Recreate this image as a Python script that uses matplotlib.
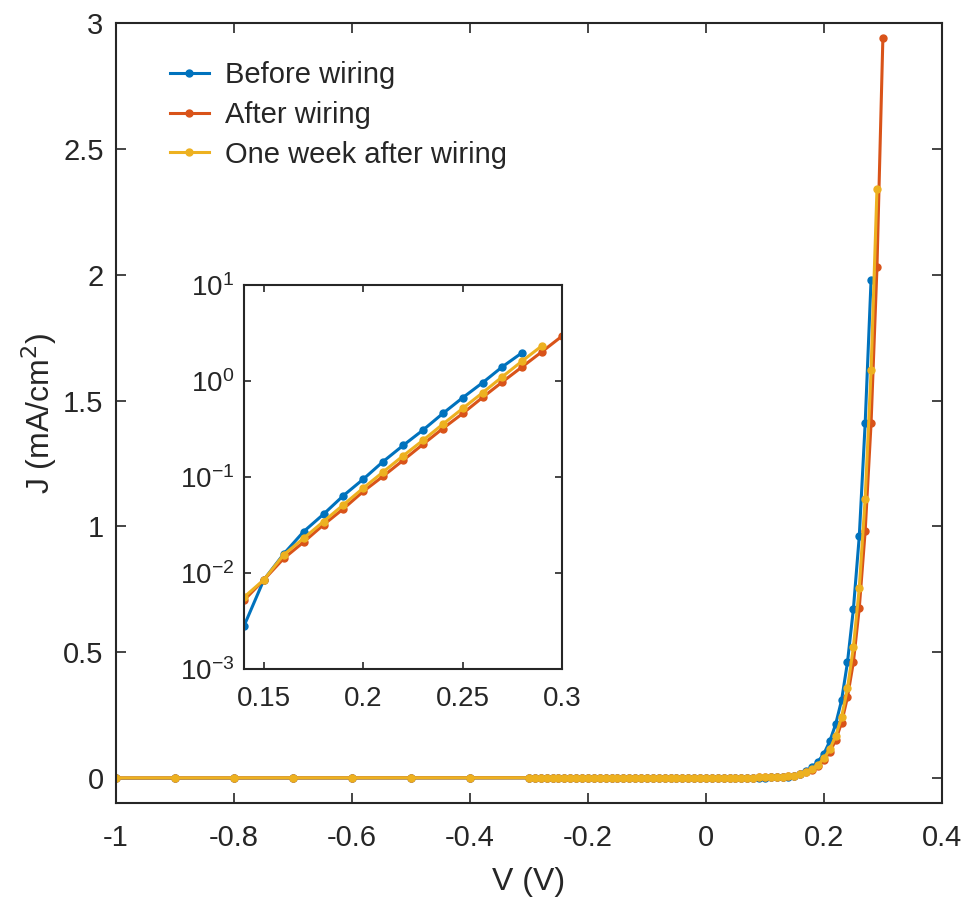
import matplotlib.pyplot as plt
from matplotlib.ticker import FormatStrFormatter, NullLocator, LogLocator

plt.rcParams['font.family'] = ['Liberation Sans', 'DejaVu Sans']
plt.rcParams['axes.unicode_minus'] = False

# voltage points (V)
v_coarse = [-1.0, -0.9, -0.8, -0.7, -0.6, -0.5, -0.4]
v_fine = [-0.30, -0.29, -0.28, -0.27, -0.26, -0.25, -0.24, -0.23, -0.22, -0.21,
          -0.20, -0.19, -0.18, -0.17, -0.16, -0.15, -0.14, -0.13, -0.12, -0.11,
          -0.10, -0.09, -0.08, -0.07, -0.06, -0.05, -0.04, -0.03, -0.02, -0.01,
          0.00, 0.01, 0.02, 0.03, 0.04, 0.05, 0.06, 0.07, 0.08, 0.09,
          0.10, 0.11, 0.12, 0.13, 0.14, 0.15, 0.16, 0.17, 0.18, 0.19,
          0.20, 0.21, 0.22, 0.23, 0.24, 0.25, 0.26, 0.27, 0.28, 0.29, 0.30]
v_all = v_coarse + v_fine

# current density (mA/cm^2), -1 V ... 0.13 V
j_low_before = [-0.0020, -0.0018, -0.0017, -0.0015, -0.0014, -0.0012, -0.0011,
                -0.0009, -0.0009, -0.0009, -0.0008, -0.0008, -0.0008, -0.0008, -0.0007, -0.0007, -0.0007,
                -0.0007, -0.0006, -0.0006, -0.0006, -0.0006, -0.0005, -0.0005, -0.0005, -0.0005, -0.0004,
                -0.0004, -0.0004, -0.0004, -0.0003, -0.0003, -0.0003, -0.0003, -0.0002, -0.0002, -0.0002,
                -0.0001, 0.0000, 0.0001, 0.0001, 0.0002, 0.0002, 0.0003, 0.0003, 0.0004, 0.0005,
                0.0006, 0.0009, 0.0013, 0.0019]
j_low_after = [-0.0012, -0.0011, -0.0010, -0.0009, -0.0008, -0.0007, -0.0006,
               -0.0005, -0.0005, -0.0005, -0.0005, -0.0005, -0.0004, -0.0004, -0.0004, -0.0004, -0.0004,
               -0.0004, -0.0003, -0.0003, -0.0003, -0.0003, -0.0003, -0.0003, -0.0002, -0.0002, -0.0002,
               -0.0002, -0.0002, -0.0001, -0.0001, -0.0001, -0.0001, -0.0001, 0.0000, 0.0000, 0.0000,
               0.0001, 0.0001, 0.0002, 0.0002, 0.0003, 0.0003, 0.0004, 0.0005, 0.0006, 0.0007,
               0.0009, 0.0013, 0.0021, 0.0033]
j_low_week = [-0.0010, -0.0009, -0.0008, -0.0007, -0.0006, -0.0005, -0.0005,
              -0.0004, -0.0004, -0.0004, -0.0004, -0.0004, -0.0004, -0.0003, -0.0003, -0.0003, -0.0003,
              -0.0003, -0.0003, -0.0003, -0.0002, -0.0002, -0.0002, -0.0002, -0.0002, -0.0002, -0.0002,
              -0.0001, -0.0001, -0.0001, -0.0001, -0.0001, -0.0001, 0.0000, 0.0000, 0.0000, 0.0000,
              0.0001, 0.0001, 0.0002, 0.0002, 0.0003, 0.0003, 0.0004, 0.0005, 0.0006, 0.0007,
              0.0009, 0.0014, 0.0022, 0.0035]

# 0.14 V ... end
j_high_before = [0.0028, 0.0085, 0.0158, 0.027, 0.041, 0.064, 0.095, 0.145, 0.213,
                 0.308, 0.459, 0.67, 0.96, 1.41, 1.98]
j_high_after = [0.0052, 0.0085, 0.0142, 0.021, 0.0318, 0.0467, 0.0708, 0.102, 0.149,
                0.219, 0.32, 0.459, 0.675, 0.98, 1.41, 2.03, 2.94]
j_high_week = [0.0056, 0.0085, 0.0155, 0.023, 0.0344, 0.0514, 0.0767, 0.113, 0.166,
               0.241, 0.355, 0.518, 0.755, 1.11, 1.62, 2.34]

j_before = j_low_before + j_high_before
j_after = j_low_after + j_high_after
j_week = j_low_week + j_high_week

labels = ["Before wiring", "After wiring", "One week after wiring"]
colors = ["#0072BD", "#D95319", "#EDB120"]
series = [j_before, j_after, j_week]
ink = "#262626"

fig = plt.figure(figsize=(9.67, 8.98), dpi=100)
ax = fig.add_axes([0.120, 0.106, 0.854, 0.868])

for j, lab, c in zip(series, labels, colors):
    ax.plot(v_all[:len(j)], j, marker="o", markersize=5, linewidth=2.2, color=c, label=lab)

ax.set_xlim(-1, 0.4)
ax.set_ylim(-0.1, 3)
ax.set_xticks([-1, -0.8, -0.6, -0.4, -0.2, 0, 0.2, 0.4])
ax.set_yticks([0, 0.5, 1, 1.5, 2, 2.5, 3])
ax.xaxis.set_major_formatter(FormatStrFormatter("%g"))
ax.yaxis.set_major_formatter(FormatStrFormatter("%g"))
ax.tick_params(direction="in", top=True, right=True, length=7, width=1.2,
               labelsize=21, color=ink, labelcolor=ink)
ax.tick_params(axis="x", pad=15)
ax.tick_params(axis="y", pad=9)
for s in ax.spines.values():
    s.set_linewidth(1.5)
    s.set_color(ink)
ax.set_xlabel("V (V)", fontsize=23, color=ink, labelpad=11)
ax.set_ylabel("J (mA/cm$^2$)", fontsize=23, color=ink, labelpad=3)

ax.legend(loc="upper left", bbox_to_anchor=(0.033, 0.985), frameon=False, fontsize=21,
          handlelength=1.35, handletextpad=0.55, labelspacing=0.4,
          labelcolor=ink)

# inset, log scale
axi = fig.add_axes([0.2523, 0.255, 0.329, 0.4276])
for j, lab, c in zip(series, labels, colors):
    v = v_all[:len(j)]
    vi = [x for x in v if x >= 0.139]
    ji = j[len(v) - len(vi):]
    axi.plot(vi, ji, marker="o", markersize=5, linewidth=2.2, color=c)
axi.set_yscale("log")
axi.set_xlim(0.14, 0.3)
axi.set_ylim(1e-3, 1e1)
axi.set_xticks([0.15, 0.2, 0.25, 0.3])
axi.xaxis.set_major_formatter(FormatStrFormatter("%g"))
axi.yaxis.set_major_locator(LogLocator(base=10, numticks=10))
axi.yaxis.set_minor_locator(NullLocator())
axi.tick_params(direction="in", top=True, right=True, length=5, width=1.2,
                labelsize=20, color=ink, labelcolor=ink)
axi.tick_params(axis="x", pad=12)
axi.tick_params(axis="y", pad=7)
for s in axi.spines.values():
    s.set_linewidth(1.5)
    s.set_color(ink)

fig.savefig("out.png", dpi=100)
